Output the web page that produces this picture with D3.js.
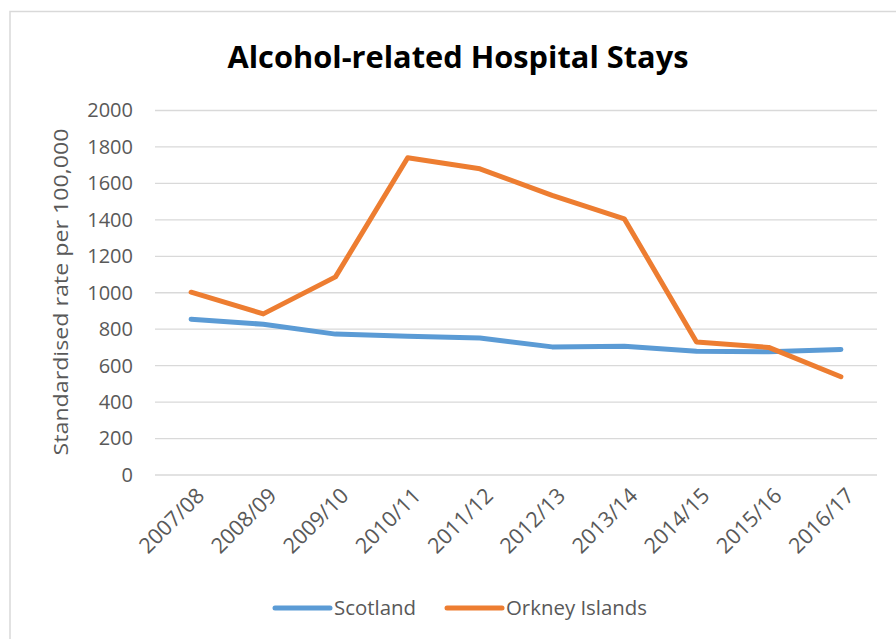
<!DOCTYPE html>
<html>
<head>
<meta charset="utf-8">
<script src="https://cdn.jsdelivr.net/npm/d3@7"></script>
<style>
  html, body { margin: 0; padding: 0; background: #fff; }
  svg { display: block; }
  text { font-family: "Open Sans", "Noto Sans", sans-serif; }
</style>
</head>
<body>
<svg id="chart" width="896" height="639"></svg>
<script>
const categories = ["2007/08","2008/09","2009/10","2010/11","2011/12","2012/13","2013/14","2014/15","2015/16","2016/17"];
const scotland = [855, 827, 773, 762, 752, 703, 707, 679, 676, 689];
const orkney = [1003, 884, 1087, 1741, 1680, 1534, 1406, 730, 700, 539];
const yTicks = [0, 200, 400, 600, 800, 1000, 1200, 1400, 1600, 1800, 2000];
const seriesNames = ["Scotland", "Orkney Islands"];
const seriesColors = ["#5B9BD5", "#ED7D31"];
const titleText = "Alcohol-related Hospital Stays";
const yTitle = "Standardised rate per 100,000";

const svg = d3.select("#chart");
const margin = {left: 155, right: 19};
const W = 896;

// chart border
svg.append("rect")
  .attr("x", 10).attr("y", 11.5)
  .attr("width", 900).attr("height", 700)
  .attr("fill", "none").attr("stroke", "#d9d9d9").attr("stroke-width", 1.5);

const x = d3.scalePoint().domain(categories)
  .range([margin.left, W - margin.right]).padding(0.5);
const y = d3.scaleLinear().domain([0, 2000]).range([475, 110.5]);

// gridlines
svg.append("g").selectAll("line").data(yTicks).join("line")
  .attr("x1", margin.left).attr("x2", W - margin.right)
  .attr("y1", d => y(d)).attr("y2", d => y(d))
  .attr("stroke", "#d9d9d9").attr("stroke-width", 1.3);

// y axis
const yAxis = d3.axisLeft(y).tickValues(yTicks).tickFormat(d3.format("d")).tickSize(0).tickPadding(0);
const yg = svg.append("g").attr("transform", `translate(133,0)`).call(yAxis);
yg.select(".domain").remove();
yg.selectAll("text").attr("font-size", 20).attr("fill", "#595959")
  .attr("font-family", '"Open Sans", sans-serif');

// x axis
const xAxis = d3.axisBottom(x).tickSize(0).tickPadding(0);
const xg = svg.append("g").attr("transform", `translate(0,475)`).call(xAxis);
xg.select(".domain").remove();
xg.selectAll("text")
  .attr("font-size", 21.5).attr("fill", "#595959")
  .attr("font-family", '"Open Sans", sans-serif')
  .attr("text-anchor", "end")
  .attr("dy", null).attr("y", null)
  .attr("transform", "translate(10,18) rotate(-45)")
  .attr("dominant-baseline", "middle");

// lines
const line = d3.line().x((d, i) => x(categories[i])).y(d => y(d));
[scotland, orkney].forEach((s, k) => {
  svg.append("path").datum(s)
    .attr("d", line)
    .attr("fill", "none")
    .attr("stroke", seriesColors[k])
    .attr("stroke-width", 5)
    .attr("stroke-linejoin", "round")
    .attr("stroke-linecap", "round");
});

// title
svg.append("text")
  .attr("x", 458).attr("y", 68)
  .attr("text-anchor", "middle")
  .attr("font-size", 31).attr("font-weight", "bold").attr("fill", "#000")
  .attr("textLength", 461).attr("lengthAdjust", "spacingAndGlyphs")
  .text(titleText);

// y title
svg.append("text")
  .attr("transform", "translate(68,292) rotate(-90)")
  .attr("text-anchor", "middle")
  .attr("font-size", 20).attr("fill", "#595959")
  .attr("textLength", 327).attr("lengthAdjust", "spacingAndGlyphs")
  .text(yTitle);

// legend
const legendX = [275, 447];
const legendTextW = [82, 141];
seriesNames.forEach((n, k) => {
  const g = svg.append("g");
  g.append("line")
    .attr("x1", legendX[k]).attr("x2", legendX[k] + 55)
    .attr("y1", 608).attr("y2", 608)
    .attr("stroke", seriesColors[k]).attr("stroke-width", 5)
    .attr("stroke-linecap", "round");
  g.append("text")
    .attr("x", legendX[k] + 59).attr("y", 615)
    .attr("font-size", 20).attr("fill", "#595959")
    .attr("textLength", legendTextW[k]).attr("lengthAdjust", "spacingAndGlyphs")
    .text(n);
});
</script>
</body>
</html>
